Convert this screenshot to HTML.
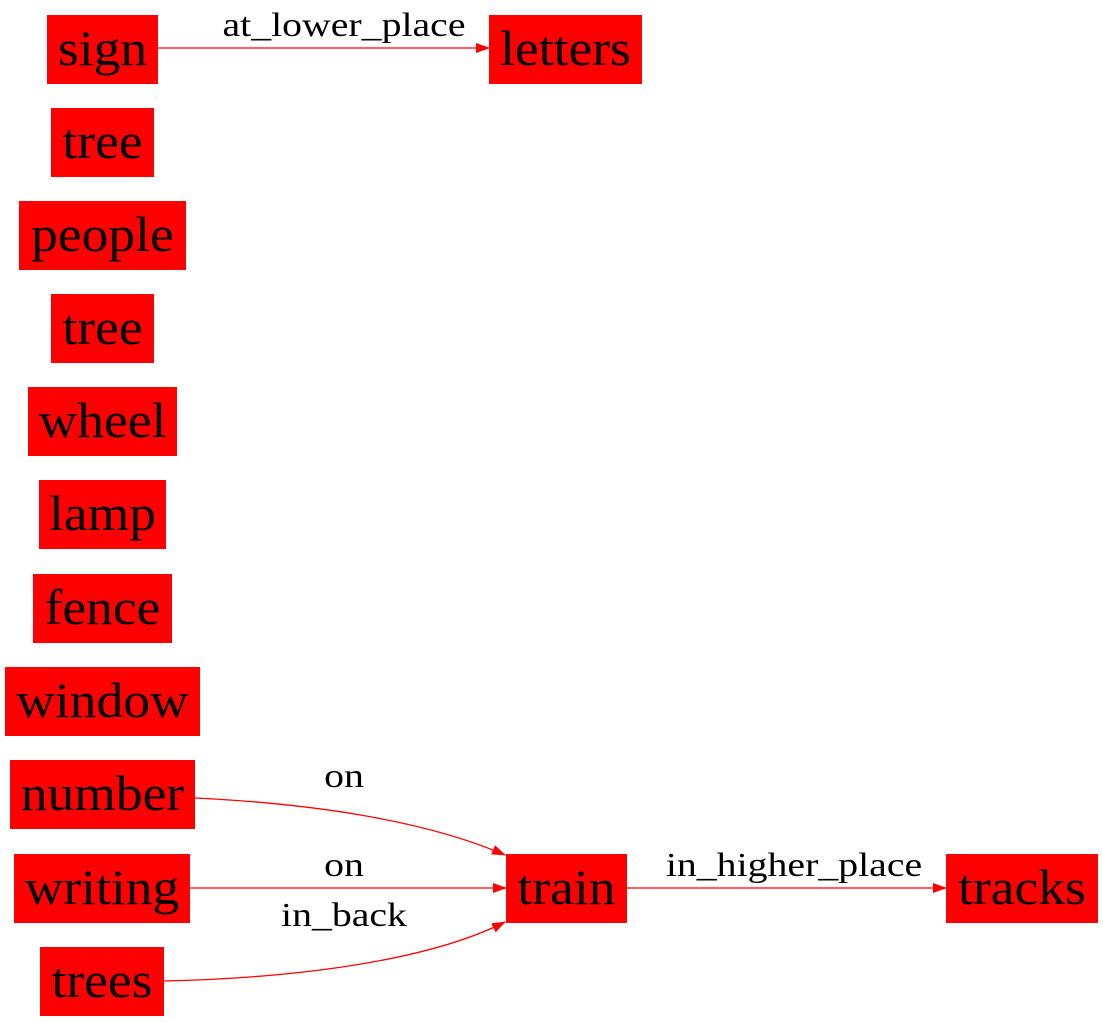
<!DOCTYPE html>
<html><head><meta charset="utf-8"><style>
html,body{margin:0;padding:0;background:#fff;}
svg{display:block;}
text{font-family:"Liberation Serif","Times New Roman",serif;}
</style></head><body>
<svg id="g" width="1103" height="1023" viewBox="0 0 1103 1023">
<defs><marker id="ah" markerWidth="14" markerHeight="10" refX="13" refY="5" orient="auto" markerUnits="userSpaceOnUse"><path d="M0,0 L14,5 L0,10 z" fill="#f00"/></marker></defs>
</svg>
<script>
const nodeLabels=["sign","letters","tree","people","tree","wheel","lamp","fence","window","number","writing","train","tracks","trees"];
const nodeBoxes=[[47,15,111],[489,15,153],[51,108,103],[19,201,167],[51,294,103],[28,387,149],[39,480,127],[33,574,139],[5,667,195],[10,760,185],[14,854,176],[506,854,121],[946,854,152],[40,947,124]];
const edges=[
 {d:"M158,48 L489,48",label:"at_lower_place",lx:344,ly:36},
 {d:"M195,798 C300,803 420,818 505,855",label:"on",lx:344,ly:787},
 {d:"M190,888 L506,888",label:"on",lx:344,ly:876},
 {d:"M164,981 C300,978 430,960 505,922",label:"in_back",lx:344,ly:926},
 {d:"M627,888 L946,888",label:"in_higher_place",lx:794,ly:876}
];
const svg=document.getElementById('g');
const NS="http://www.w3.org/2000/svg";
function stretch(tx,f){const w=tx.getComputedTextLength();tx.setAttribute('textLength',(w*f).toFixed(1));tx.setAttribute('lengthAdjust','spacingAndGlyphs');}
nodeLabels.forEach((t,i)=>{
 const [x,y,w]=nodeBoxes[i];
 const r=document.createElementNS(NS,'rect');
 r.setAttribute('x',x);r.setAttribute('y',y);r.setAttribute('width',w);r.setAttribute('height',69);r.setAttribute('fill','#f00');
 
 
 svg.appendChild(r);
 const tx=document.createElementNS(NS,'text');
 tx.setAttribute('x',x+w/2);tx.setAttribute('y',y+50);tx.setAttribute('text-anchor','middle');tx.setAttribute('font-size','50');
 tx.textContent=t;
 
 
 svg.appendChild(tx);
 stretch(tx,1.07);
});
edges.forEach((e,i)=>{
 const p=document.createElementNS(NS,'path');
 p.setAttribute('d',e.d);p.setAttribute('fill','none');p.setAttribute('stroke','#f00');p.setAttribute('stroke-width','1.3');p.setAttribute('marker-end','url(#ah)');
 
 
 svg.appendChild(p);
 const tx=document.createElementNS(NS,'text');
 tx.setAttribute('x',e.lx);tx.setAttribute('y',e.ly);tx.setAttribute('text-anchor','middle');tx.setAttribute('font-size','34');
 tx.textContent=e.label;
 
 
 svg.appendChild(tx);
 stretch(tx,1.17);
});
</script>
</body></html>
